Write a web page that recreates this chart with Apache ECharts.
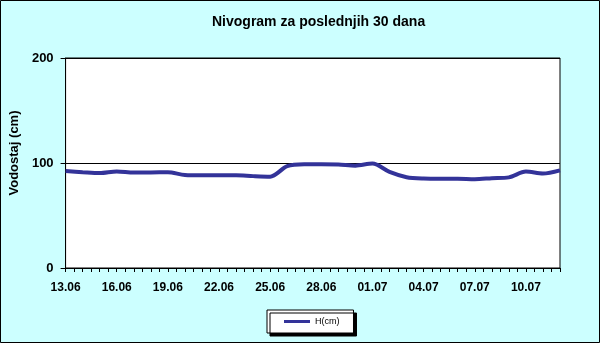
<!DOCTYPE html>
<html>
<head>
<meta charset="utf-8">
<script src="https://cdn.jsdelivr.net/npm/echarts@6/dist/echarts.min.js"></script>
<style>
  html, body { margin: 0; padding: 0; background: #ccffff; }
  #chart { width: 600px; height: 343px; }
</style>
</head>
<body>
<div id="chart"></div>
<script>
  // datumi za oznake na x osi (svaki treci dan)
  var dateLabels = ['13.06', '16.06', '19.06', '22.06', '25.06', '28.06', '01.07', '04.07', '07.07', '10.07'];
  // redni broj dana (0 = 13.06)
  var days = [0, 1, 2, 3, 4, 5, 6, 7, 8, 9, 10, 11, 12, 13, 14, 15, 16, 17, 18, 19, 20, 21, 22, 23, 24, 25, 26, 27, 28, 29];
  // vodostaj H (cm)
  var levels = [92.4, 91.3, 90.4, 92, 91, 91, 91.2, 88.6, 88.3, 88.3, 88.3, 87.5, 87, 97, 98.8, 98.8, 98.5, 97.5, 99.5, 91.5,
                86.5, 85.2, 85, 85, 84.6, 85.5, 86.3, 91.8, 90, 93];
  var yTicks = [0, 100, 200];

  var fontFam = "'Liberation Sans', Arial, sans-serif";
  var chart = echarts.init(document.getElementById('chart'));

  var option = {
    backgroundColor: '#ccffff',
    animation: false,
    title: {
      text: 'Nivogram za poslednjih 30 dana',
      left: 212,
      top: 15,
      padding: 0,
      textStyle: { fontFamily: fontFam, fontSize: 14, fontWeight: 'bold', color: '#000' }
    },
    legend: {
      left: 267,
      top: 310,
      padding: [7, 14, 7, 17],
      backgroundColor: '#fff',
      borderColor: '#000',
      borderWidth: 1,
      shadowColor: '#000',
      shadowBlur: 0,
      shadowOffsetX: 3,
      shadowOffsetY: 3,
      icon: 'rect',
      itemWidth: 26,
      itemHeight: 3,
      textStyle: { fontFamily: fontFam, fontSize: 9, color: '#000' },
      data: ['H(cm)']
    },
    graphic: [{
      type: 'rect',
      shape: { x: 0.5, y: 0.5, width: 599, height: 342 },
      style: { fill: 'none', stroke: '#000', lineWidth: 1 },
      silent: true
    }],
    grid: {
      left: 64, right: 40, top: 58, bottom: 75,
      show: true, backgroundColor: '#fff', borderColor: '#000', borderWidth: 1
    },
    xAxis: [{
      type: 'value', min: 0, max: days[days.length - 1], interval: 0.5,
      position: 'bottom',
      axisLine: { lineStyle: { color: '#000', width: 1 } },
      axisTick: { length: 4, lineStyle: { color: '#000' } },
      axisLabel: { show: false },
      splitLine: { show: false }
    }, {
      type: 'value', min: 0, max: days[days.length - 1], interval: 3,
      position: 'bottom',
      axisLine: { show: false },
      axisTick: { show: false },
      splitLine: { show: false },
      axisLabel: {
        margin: 14,
        fontFamily: fontFam, fontSize: 12, fontWeight: 'bold', color: '#000',
        formatter: function (v) { return dateLabels[v / 3] || ''; }
      }
    }],
    yAxis: {
      type: 'value', min: yTicks[0], max: yTicks[yTicks.length - 1], interval: 100,
      name: 'Vodostaj (cm)',
      nameLocation: 'middle',
      nameGap: 41,
      nameTextStyle: { fontFamily: fontFam, fontSize: 13, fontWeight: 'bold', color: '#000', padding: [0, 0, 0, 20] },
      axisLine: { show: true, lineStyle: { color: '#000' } },
      axisTick: { show: true, length: 5, lineStyle: { color: '#000' } },
      splitLine: { lineStyle: { color: '#000', width: 1 } },
      axisLabel: { margin: 12, fontFamily: fontFam, fontSize: 13, fontWeight: 'bold', color: '#000' }
    },
    series: [{
      name: 'H(cm)',
      type: 'line',
      xAxisIndex: 0,
      smooth: 0.3,
      symbol: 'none',
      lineStyle: { color: '#333399', width: 4 },
      itemStyle: { color: '#333399' },
      data: days.map(function (d, i) { return [d, levels[i]]; })
    }]
  };

  chart.setOption(option);
</script>
</body>
</html>
